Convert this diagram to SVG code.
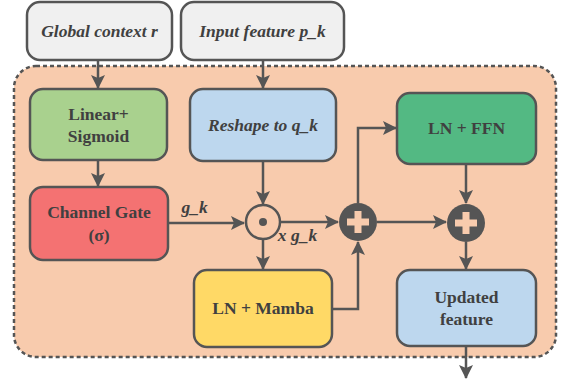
<svg xmlns="http://www.w3.org/2000/svg" width="561" height="384" viewBox="0 0 561 384" font-family="Liberation Serif, serif">
<style>
.box{stroke:#555;stroke-width:2.5}
.t{font-family:'Liberation Serif',serif;font-weight:bold;font-size:17.5px;fill:#404040;text-anchor:middle}
.i{font-style:italic}
.c{fill:none;stroke:#555;stroke-width:2.5}
</style>
<defs>
<marker id="ah" markerWidth="14" markerHeight="14" viewBox="0 0 14 14" refX="13" refY="7" orient="auto" markerUnits="userSpaceOnUse">
<path d="M0,0 L14,7 L0,14 L3,7 Z" fill="#555"/>
</marker>
</defs>
<rect x="0" y="0" width="561" height="384" fill="#fff"/>
<g id="container">
<rect x="14" y="66" width="542" height="291" rx="22" fill="#F8CBAD" stroke="#555" stroke-width="2.5" stroke-dasharray="4,3"/>
</g>
<g id="connectors">
<path class="c" d="M98,60 V88" marker-end="url(#ah)"/>
<path class="c" d="M263,60 V88" marker-end="url(#ah)"/>
<path class="c" d="M98,160 V186" marker-end="url(#ah)"/>
<path class="c" d="M168,223 H244" marker-end="url(#ah)"/>
<path class="c" d="M263,161 V204" marker-end="url(#ah)"/>
<path class="c" d="M263,239 V269" marker-end="url(#ah)"/>
<path class="c" d="M280,222 H338" marker-end="url(#ah)"/>
<path class="c" d="M332,309 H358 V242" marker-end="url(#ah)"/>
<path class="c" d="M358,203 V128 H396" marker-end="url(#ah)"/>
<path class="c" d="M377,222 H446" marker-end="url(#ah)"/>
<path class="c" d="M466,164 V203" marker-end="url(#ah)"/>
<path class="c" d="M466,242 V269" marker-end="url(#ah)"/>
<path class="c" d="M466,346 V378" marker-end="url(#ah)"/>
</g>
<g id="global">
<rect class="box" x="27" y="2" width="145" height="58" rx="13" fill="#F0F0F0"/>
<text class="t i" x="99.5" y="37">Global context r</text>
</g>
<g id="input">
<rect class="box" x="181" y="2" width="163" height="58" rx="13" fill="#F0F0F0"/>
<text class="t i" x="262.5" y="37">Input feature p_k</text>
</g>
<g id="linear">
<rect class="box" x="30" y="89" width="137" height="71" rx="13" fill="#A9D18E"/>
<text class="t" x="98.5" y="120">Linear+</text>
<text class="t" x="98.5" y="142">Sigmoid</text>
</g>
<g id="reshape">
<rect class="box" x="190" y="89" width="146" height="72" rx="13" fill="#BDD7EE"/>
<text class="t i" x="263" y="131">Reshape to q_k</text>
</g>
<g id="lnffn">
<rect class="box" x="397" y="93" width="139" height="71" rx="13" fill="#53B983"/>
<text class="t" x="466.5" y="134">LN + FFN</text>
</g>
<g id="gate">
<rect class="box" x="30" y="187" width="138" height="73" rx="13" fill="#F47272"/>
<text class="t" x="99" y="218">Channel Gate</text>
<text class="t" x="99" y="241">(σ)</text>
</g>
<g id="odot">
<circle cx="263" cy="222" r="17" fill="#F8CBAD" stroke="#555" stroke-width="2.5"/>
<circle cx="263" cy="222" r="4" fill="#555"/>
</g>
<g id="plus1">
<circle cx="358" cy="222" r="19" fill="#555"/>
<path d="M354.5,211 h7 v7.5 h7.5 v7 h-7.5 v7.5 h-7 v-7.5 h-7.5 v-7 h7.5 Z" fill="#F8CBAD"/>
</g>
<g id="plus2">
<circle cx="466" cy="223" r="19" fill="#555"/>
<path d="M462.5,212 h7 v7.5 h7.5 v7 h-7.5 v7.5 h-7 v-7.5 h-7.5 v-7 h7.5 Z" fill="#F8CBAD"/>
</g>
<g id="mamba">
<rect class="box" x="194" y="270" width="138" height="77" rx="13" fill="#FFD966"/>
<text class="t" x="263" y="314">LN + Mamba</text>
</g>
<g id="updated">
<rect class="box" x="397" y="270" width="139" height="76" rx="13" fill="#BDD7EE"/>
<text class="t" x="466.5" y="303">Updated</text>
<text class="t" x="466.5" y="325">feature</text>
</g>
<g id="labels">
<text class="t i" x="194.5" y="213">g_k</text>
<text class="t i" x="297.5" y="241">x g_k</text>
</g>
</svg>
